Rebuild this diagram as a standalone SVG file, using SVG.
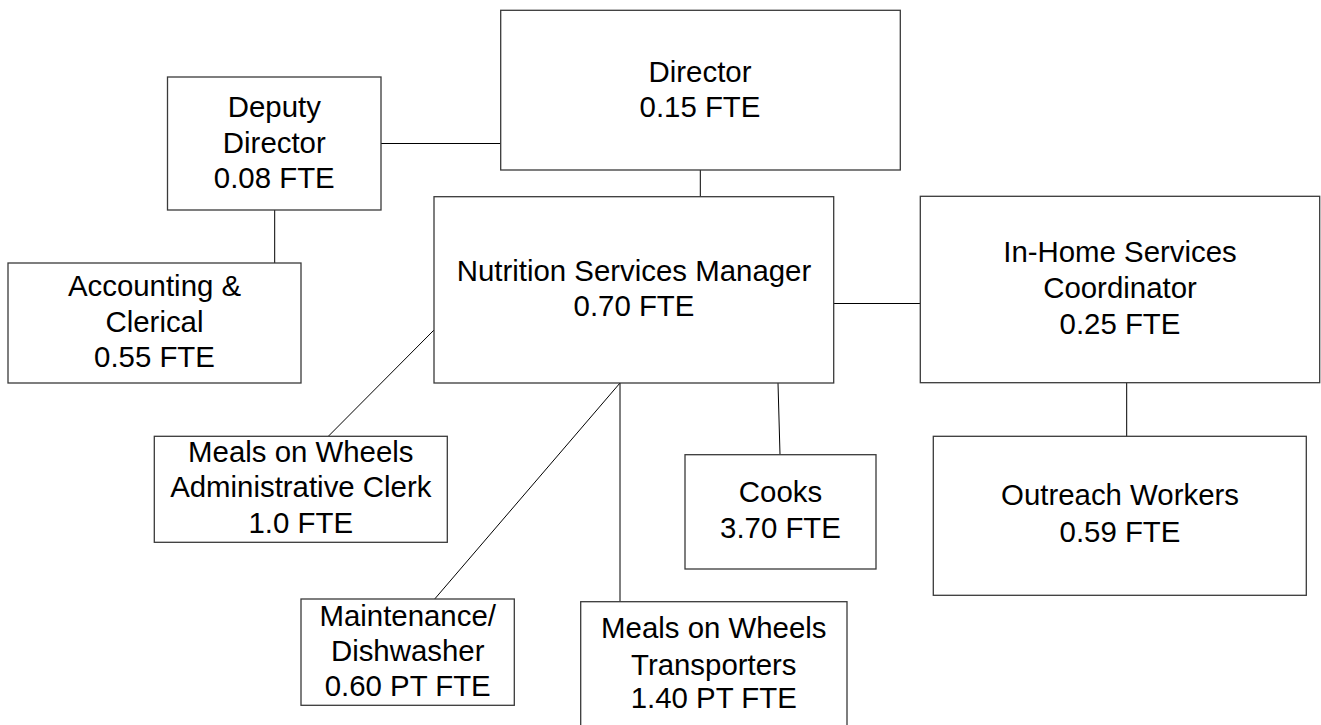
<svg xmlns="http://www.w3.org/2000/svg" width="1321" height="725" viewBox="0 0 1321 725">
<style>
.box{fill:#fff;stroke:#3a3a3a;stroke-width:1.3}
.lbl{font-family:"Liberation Sans",Arial,sans-serif;font-size:29.4px;fill:#000;text-anchor:middle}
.conn line{stroke:#000;stroke-width:1}
</style>
<rect width="1321" height="725" fill="#fff"/>
<g id="connectors" class="conn">
<line x1="381" y1="143.5" x2="500.7" y2="143.5"/>
<line x1="274.7" y1="210" x2="274.7" y2="263"/>
<line x1="700.3" y1="170" x2="700.3" y2="196.7"/>
<line x1="833.7" y1="303.5" x2="920.3" y2="303.5"/>
<line x1="1126.7" y1="382.7" x2="1126.7" y2="436.3"/>
<line x1="434" y1="330" x2="328.3" y2="436.3"/>
<line x1="620" y1="383" x2="434.7" y2="599"/>
<line x1="620" y1="383" x2="620" y2="601.7"/>
<line x1="778" y1="383" x2="780" y2="454.7"/>
</g>
<g id="director">
<rect class="box" x="500.7" y="10.3" width="399.6" height="159.7"/>
<text class="lbl" x="700" y="81.7">Director</text>
<text class="lbl" x="700" y="116.7">0.15 FTE</text>
</g>
<g id="deputy-director">
<rect class="box" x="167.5" y="77" width="213.5" height="133"/>
<text class="lbl" x="274.3" y="117.3">Deputy</text>
<text class="lbl" x="274.3" y="152.7">Director</text>
<text class="lbl" x="274.3" y="188.3">0.08 FTE</text>
</g>
<g id="accounting">
<rect class="box" x="8" y="263" width="293" height="120"/>
<text class="lbl" x="154.5" y="296">Accounting &amp;</text>
<text class="lbl" x="154.5" y="331.7">Clerical</text>
<text class="lbl" x="154.5" y="367">0.55 FTE</text>
</g>
<g id="nutrition-manager">
<rect class="box" x="434" y="196.7" width="399.7" height="186.3"/>
<text class="lbl" x="634" y="281">Nutrition Services Manager</text>
<text class="lbl" x="634" y="316">0.70 FTE</text>
</g>
<g id="in-home">
<rect class="box" x="920.3" y="196.3" width="399.4" height="186.4"/>
<text class="lbl" x="1120" y="261.7">In-Home Services</text>
<text class="lbl" x="1120" y="298.3">Coordinator</text>
<text class="lbl" x="1120" y="334">0.25 FTE</text>
</g>
<g id="outreach">
<rect class="box" x="933.3" y="436.3" width="373" height="159"/>
<text class="lbl" x="1120" y="505">Outreach Workers</text>
<text class="lbl" x="1120" y="541.7">0.59 FTE</text>
</g>
<g id="admin-clerk">
<rect class="box" x="154.3" y="436.3" width="293" height="106"/>
<text class="lbl" x="300.8" y="461.7">Meals on Wheels</text>
<text class="lbl" x="300.8" y="497.3">Administrative Clerk</text>
<text class="lbl" x="300.8" y="532.7">1.0 FTE</text>
</g>
<g id="cooks">
<rect class="box" x="685" y="454.7" width="191" height="114.3"/>
<text class="lbl" x="780.5" y="501.7">Cooks</text>
<text class="lbl" x="780.5" y="538.3">3.70 FTE</text>
</g>
<g id="maintenance">
<rect class="box" x="301" y="599" width="213.3" height="106.3"/>
<text class="lbl" x="407.7" y="625.7">Maintenance/</text>
<text class="lbl" x="407.7" y="661">Dishwasher</text>
<text class="lbl" x="407.7" y="696">0.60 PT FTE</text>
</g>
<g id="transporters">
<rect class="box" x="580.7" y="601.7" width="266.3" height="130"/>
<text class="lbl" x="713.8" y="638.3">Meals on Wheels</text>
<text class="lbl" x="713.8" y="675">Transporters</text>
<text class="lbl" x="713.8" y="708.3">1.40 PT FTE</text>
</g>
</svg>
